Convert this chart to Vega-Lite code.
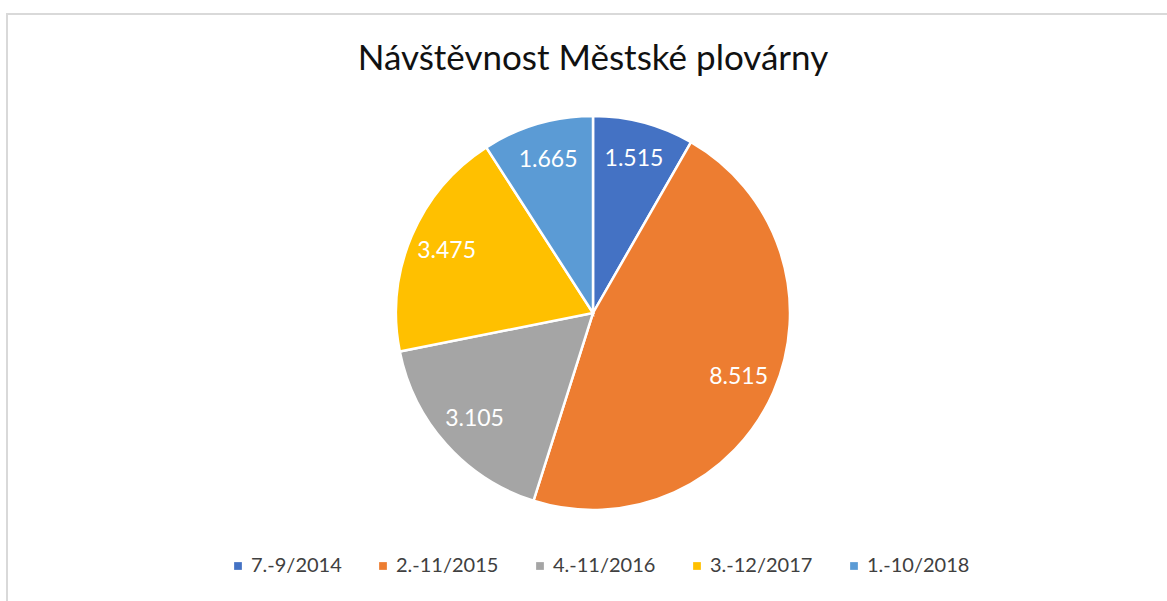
{
  "$schema": "https://vega.github.io/schema/vega-lite/v6.json",
  "width": 1172,
  "height": 598,
  "autosize": {"type": "none"},
  "padding": {"left": 7, "top": 14, "right": 0, "bottom": 0},
  "background": "white",
  "title": {
    "text": "Návštěvnost Městské plovárny",
    "anchor": "middle",
    "offset": -64,
    "font": "Lato",
    "fontSize": 35,
    "fontWeight": "normal",
    "color": "#111111"
  },
  "datasets": {
    "visits": [
      {"i": 1, "period": "7.-9/2014", "value": 1515},
      {"i": 2, "period": "2.-11/2015", "value": 8515},
      {"i": 3, "period": "4.-11/2016", "value": 3105},
      {"i": 4, "period": "3.-12/2017", "value": 3475},
      {"i": 5, "period": "1.-10/2018", "value": 1665}
    ],
    "frame": [{"name": "frame"}]
  },
  "layer": [
    {
      "data": {"name": "frame"},
      "mark": {"type": "rect", "fill": null, "stroke": "#D9D9D9", "strokeWidth": 2}
    },
    {
      "data": {"name": "visits"},
      "encoding": {
        "theta": {"field": "value", "type": "quantitative", "stack": true},
        "order": {"field": "i", "type": "quantitative"},
        "color": {
          "field": "period",
          "type": "nominal",
          "scale": {
            "domain": ["7.-9/2014", "2.-11/2015", "4.-11/2016", "3.-12/2017", "1.-10/2018"],
            "range": ["#4472C4", "#ED7D31", "#A5A5A5", "#FFC000", "#5B9BD5"]
          },
          "legend": {
            "orient": "none",
            "legendX": 221,
            "legendY": 542,
            "direction": "horizontal",
            "columns": 5,
            "title": null,
            "symbolType": "square",
            "symbolSize": 60,
            "symbolStrokeWidth": 0,
            "columnPadding": 31,
            "labelFont": "Lato",
            "labelFontSize": 20,
            "labelColor": "#404040",
            "labelOffset": 3
          }
        }
      },
      "layer": [
        {
          "mark": {"type": "arc", "outerRadius": 197, "stroke": "white", "strokeWidth": 2.5}
        },
        {
          "mark": {"type": "text", "radius": 159, "fill": "white", "font": "Lato", "fontSize": 23},
          "encoding": {
            "text": {"field": "value", "type": "quantitative", "format": ",d"}
          }
        }
      ]
    }
  ],
  "config": {
    "locale": {"number": {"decimal": ",", "thousands": ".", "grouping": [3], "currency": ["", " Kč"]}},
    "view": {"stroke": null}
  }
}
